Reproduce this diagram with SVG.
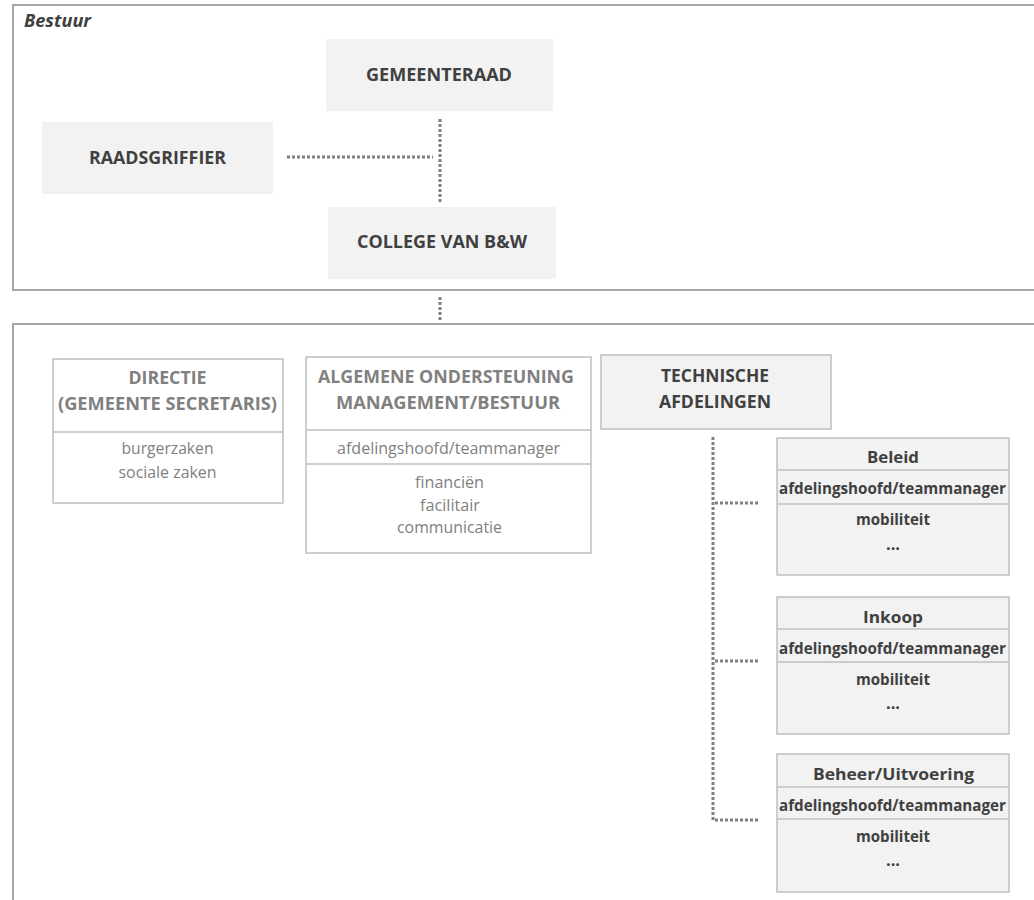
<svg xmlns="http://www.w3.org/2000/svg" width="1034" height="900" viewBox="0 0 1034 900">
<style>
text{font-family:"Open Sans","Noto Sans",sans-serif;text-anchor:middle}
.frame{fill:none;stroke:#a6a6a6;stroke-width:2}
.gbox{fill:#f2f2f2;stroke:none}
.wbox{fill:#ffffff;stroke:#bfbfbf;stroke-width:1.5}
.sbox{fill:#f2f2f2;stroke:#bfbfbf;stroke-width:1.5}
.div{stroke:#bfbfbf;stroke-width:1.5}
.t1{font-weight:bold;font-size:18px;fill:#404040}
.t2{font-weight:bold;font-size:17px;fill:#808080}
.t3{font-weight:bold;font-size:17px;fill:#404040}
.b2{font-size:16px;fill:#808080}
.s1{font-weight:bold;font-size:16.5px;fill:#404040}
.dot{fill:none;stroke:#808080;stroke-width:3;stroke-dasharray:3 2}
</style>
<rect width="1034" height="900" fill="#ffffff"/>
<g id="bestuur-frame">
<path class="frame" d="M1040 5 H13 V290 H1040"/>
<text x="24" y="27" textLength="67" lengthAdjust="spacingAndGlyphs" style="font-weight:bold;font-style:italic;font-size:17px;fill:#404040;text-anchor:start">Bestuur</text>
</g>
<g id="org-frame">
<path class="frame" d="M1040 324 H13 V905"/>
</g>
<g id="connectors">
<path class="dot" d="M440 119 V203"/>
<path class="dot" d="M287 157 H433"/>
<path class="dot" d="M440 297 V322"/>
<path class="dot" d="M713 437 V820 H758"/>
<path class="dot" d="M715 503 H758"/>
<path class="dot" d="M715 661 H758"/>
</g>
<g id="gemeenteraad">
<rect class="gbox" x="326" y="39" width="227" height="72"/>
<text class="t1" x="439" y="81" textLength="146" lengthAdjust="spacingAndGlyphs">GEMEENTERAAD</text>
</g>
<g id="raadsgriffier">
<rect class="gbox" x="42" y="122" width="231" height="72"/>
<text class="t1" x="157.5" y="164" textLength="137" lengthAdjust="spacingAndGlyphs">RAADSGRIFFIER</text>
</g>
<g id="college">
<rect class="gbox" x="328" y="207" width="228" height="72"/>
<text class="t1" x="442" y="248" textLength="170" lengthAdjust="spacingAndGlyphs">COLLEGE VAN B&amp;W</text>
</g>
<g id="directie">
<rect class="wbox" x="53" y="359" width="230" height="144"/>
<line class="div" x1="53" y1="432" x2="283" y2="432"/>
<text class="t2" x="167.5" y="384" textLength="78" lengthAdjust="spacingAndGlyphs">DIRECTIE</text>
<text class="t2" x="167.5" y="410" textLength="219" lengthAdjust="spacingAndGlyphs">(GEMEENTE SECRETARIS)</text>
<text class="b2" x="167.5" y="454" textLength="92" lengthAdjust="spacingAndGlyphs">burgerzaken</text>
<text class="b2" x="167.5" y="478" textLength="98" lengthAdjust="spacingAndGlyphs">sociale zaken</text>
</g>
<g id="algemene">
<rect class="wbox" x="306" y="357" width="285" height="196"/>
<line class="div" x1="306" y1="430" x2="591" y2="430"/>
<line class="div" x1="306" y1="464" x2="591" y2="464"/>
<text class="t2" x="446" y="383" textLength="256" lengthAdjust="spacingAndGlyphs">ALGEMENE ONDERSTEUNING</text>
<text class="t2" x="448" y="409" textLength="224" lengthAdjust="spacingAndGlyphs">MANAGEMENT/BESTUUR</text>
<text class="b2" x="448.5" y="454" textLength="223" lengthAdjust="spacingAndGlyphs">afdelingshoofd/teammanager</text>
<text class="b2" x="449.5" y="488" textLength="69" lengthAdjust="spacingAndGlyphs">financiën</text>
<text class="b2" x="450" y="511" textLength="60" lengthAdjust="spacingAndGlyphs">facilitair</text>
<text class="b2" x="449.5" y="533" textLength="105" lengthAdjust="spacingAndGlyphs">communicatie</text>
</g>
<g id="technische">
<rect class="sbox" x="601" y="355" width="230" height="74"/>
<text class="t3" x="715" y="382" textLength="108" lengthAdjust="spacingAndGlyphs">TECHNISCHE</text>
<text class="t3" x="715" y="408" textLength="112" lengthAdjust="spacingAndGlyphs">AFDELINGEN</text>
</g>
<g id="beleid">
<rect class="sbox" x="777" y="438" width="232" height="137"/>
<line class="div" x1="777" y1="470" x2="1009" y2="470"/>
<line class="div" x1="777" y1="504" x2="1009" y2="504"/>
<text class="s1" x="893" y="463" textLength="52" lengthAdjust="spacingAndGlyphs">Beleid</text>
<text class="s1" x="892.5" y="494" textLength="227" lengthAdjust="spacingAndGlyphs">afdelingshoofd/teammanager</text>
<text class="s1" x="893" y="525" textLength="74" lengthAdjust="spacingAndGlyphs">mobiliteit</text>
<text class="s1" x="893" y="550" textLength="14" lengthAdjust="spacingAndGlyphs">...</text>
</g>
<g id="inkoop">
<rect class="sbox" x="777" y="597" width="232" height="137"/>
<line class="div" x1="777" y1="629" x2="1009" y2="629"/>
<line class="div" x1="777" y1="662" x2="1009" y2="662"/>
<text class="s1" x="893" y="623" textLength="60" lengthAdjust="spacingAndGlyphs">Inkoop</text>
<text class="s1" x="892.5" y="654" textLength="227" lengthAdjust="spacingAndGlyphs">afdelingshoofd/teammanager</text>
<text class="s1" x="893" y="685" textLength="74" lengthAdjust="spacingAndGlyphs">mobiliteit</text>
<text class="s1" x="893" y="709" textLength="14" lengthAdjust="spacingAndGlyphs">...</text>
</g>
<g id="beheer">
<rect class="sbox" x="777" y="754" width="232" height="138"/>
<line class="div" x1="777" y1="787" x2="1009" y2="787"/>
<line class="div" x1="777" y1="819" x2="1009" y2="819"/>
<text class="s1" x="893.5" y="780" textLength="161" lengthAdjust="spacingAndGlyphs">Beheer/Uitvoering</text>
<text class="s1" x="892.5" y="811" textLength="227" lengthAdjust="spacingAndGlyphs">afdelingshoofd/teammanager</text>
<text class="s1" x="893" y="842" textLength="74" lengthAdjust="spacingAndGlyphs">mobiliteit</text>
<text class="s1" x="893" y="866" textLength="14" lengthAdjust="spacingAndGlyphs">...</text>
</g>
</svg>
